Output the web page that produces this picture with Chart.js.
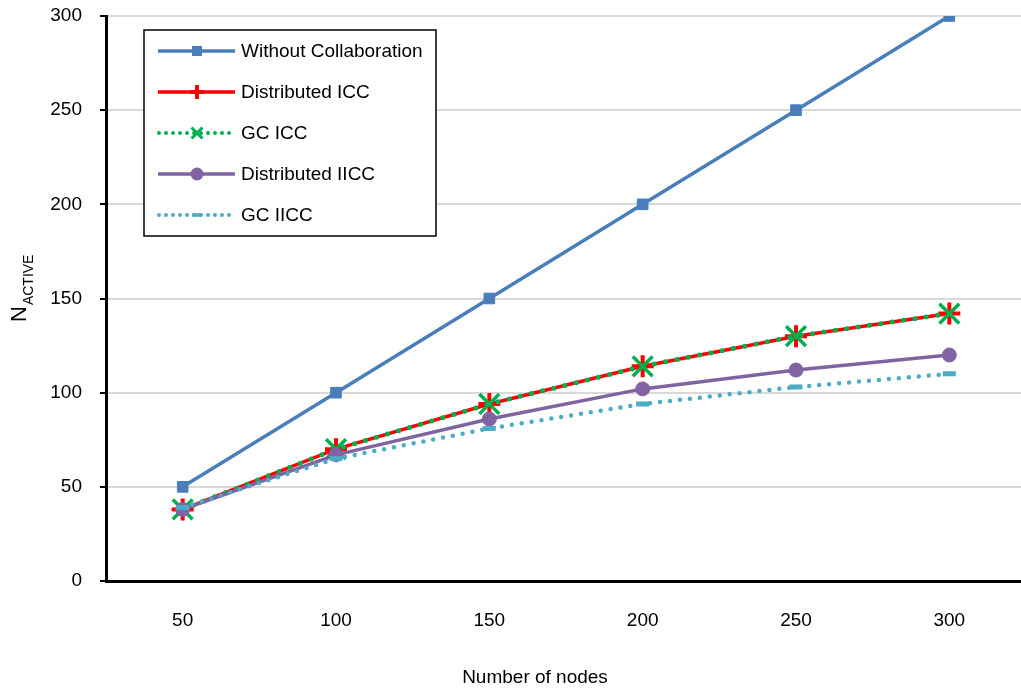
<!DOCTYPE html>
<html lang="en">
<head>
    <meta charset="UTF-8">
    <title>Active nodes vs. number of nodes</title>
    <script src="https://cdn.jsdelivr.net/npm/chart.js"></script>
    <style>
        body, html {
            margin: 0;
            padding: 0;
            background: #ffffff;
            overflow: hidden;
        }
        #wrap {
            position: relative;
            width: 1026px;
            height: 696px;
        }
    </style>
</head>
<body>
    <div id="wrap">
        <canvas id="activeChart" width="1026" height="696"></canvas>
    </div>

    <script>
        const FONT = '"Liberation Sans", Arial, sans-serif';
        const FONT_SIZE = 19;

        // number of nodes in the network
        const nodes = ['50', '100', '150', '200', '250', '300'];

        // active nodes for each scheme
        const withoutCollab = [50, 100, 150, 200, 250, 300];
        const distributedICC = [38, 70, 94, 114, 130, 142];
        const gcICC = [38, 70, 94, 114, 130, 142];
        const distributedIICC = [38, 67, 86, 102, 112, 120];
        const gcIICC = [39, 65, 81, 94, 103, 110];

        const yTicks = [0, 50, 100, 150, 200, 250, 300];

        const seriesNames = ['Without Collaboration', 'Distributed ICC', 'GC ICC', 'Distributed IICC', 'GC IICC'];
        const xTitle = 'Number of nodes';

        const datasets = [
            {
                label: seriesNames[0],
                data: withoutCollab,
                borderColor: '#4a7ebb',
                backgroundColor: '#4a7ebb',
                borderWidth: 3.5,
                pointStyle: 'rect',
                pointRadius: 7.5,
                pointBorderWidth: 1,
                order: 5
            },
            {
                label: seriesNames[1],
                data: distributedICC,
                borderColor: '#ff0000',
                backgroundColor: '#ff0000',
                borderWidth: 3.5,
                pointStyle: 'cross',
                pointRadius: 11,
                pointBorderWidth: 4,
                order: 4
            },
            {
                label: seriesNames[2],
                data: gcICC,
                borderColor: '#00b050',
                backgroundColor: '#00b050',
                borderWidth: 5,
                borderDash: [0, 11.5],
                borderCapStyle: 'round',
                pointStyle: 'crossRot',
                pointRadius: 14,
                pointBorderWidth: 3.5,
                order: 3
            },
            {
                label: seriesNames[3],
                data: distributedIICC,
                borderColor: '#8064a2',
                backgroundColor: '#8064a2',
                borderWidth: 3.5,
                pointStyle: 'circle',
                pointRadius: 7,
                pointBorderWidth: 1,
                order: 2
            },
            {
                label: seriesNames[4],
                data: gcIICC,
                borderColor: '#4bacc6',
                backgroundColor: '#4bacc6',
                borderWidth: 4.5,
                borderDash: [0, 10],
                borderCapStyle: 'round',
                pointStyle: 'line',
                pointRadius: 6.5,
                pointBorderWidth: 5,
                order: 1
            }
        ];

        // marker shapes for the legend box (smaller than on the plot)
        function drawMarker(ctx, ds, x, y) {
            ctx.save();
            ctx.fillStyle = ds.backgroundColor;
            ctx.strokeStyle = ds.borderColor;
            ctx.setLineDash([]);
            ctx.lineCap = 'butt';
            ctx.beginPath();
            if (ds.pointStyle === 'rect') {
                ctx.rect(x - 5, y - 5, 10, 10);
                ctx.fill();
            } else if (ds.pointStyle === 'cross') {
                ctx.lineWidth = 4;
                ctx.moveTo(x, y - 7); ctx.lineTo(x, y + 7);
                ctx.moveTo(x - 7, y); ctx.lineTo(x + 7, y);
                ctx.stroke();
            } else if (ds.pointStyle === 'crossRot') {
                ctx.lineWidth = 3;
                ctx.moveTo(x - 5.5, y - 5.5); ctx.lineTo(x + 5.5, y + 5.5);
                ctx.moveTo(x - 5.5, y + 5.5); ctx.lineTo(x + 5.5, y - 5.5);
                ctx.stroke();
            } else if (ds.pointStyle === 'circle') {
                ctx.arc(x, y, 6.5, 0, Math.PI * 2);
                ctx.fill();
            } else if (ds.pointStyle === 'line') {
                ctx.lineWidth = 3.5;
                ctx.moveTo(x - 4.5, y); ctx.lineTo(x + 4.5, y);
                ctx.stroke();
            }
            ctx.restore();
        }

        const legendBox = {
            id: 'legendBox',
            afterDraw(chart) {
                const ctx = chart.ctx;
                const box = { x: 144, y: 30, w: 292, h: 206 };
                ctx.save();
                ctx.fillStyle = '#ffffff';
                ctx.fillRect(box.x, box.y, box.w, box.h);
                ctx.strokeStyle = '#000000';
                ctx.lineWidth = 1.5;
                ctx.strokeRect(box.x, box.y, box.w, box.h);

                ctx.font = FONT_SIZE + 'px ' + FONT;
                ctx.textBaseline = 'middle';
                ctx.fillStyle = '#000000';
                chart.data.datasets.forEach((ds, i) => {
                    const rowY = 51 + i * 41;
                    ctx.save();
                    ctx.strokeStyle = ds.borderColor;
                    ctx.beginPath();
                    if (ds.borderDash) {
                        ctx.lineWidth = 4;
                        ctx.lineCap = 'round';
                        ctx.setLineDash([0, 7]);
                        ctx.moveTo(159, rowY);
                        ctx.lineTo(232, rowY);
                    } else {
                        ctx.lineWidth = 3.5;
                        ctx.moveTo(158, rowY);
                        ctx.lineTo(235, rowY);
                    }
                    ctx.stroke();
                    ctx.restore();
                    drawMarker(ctx, ds, 197, rowY);
                    ctx.fillText(ds.label, 241, rowY + 1);
                });
                ctx.restore();
            }
        };

        // axis titles: x title below the ticks, y title is N with ACTIVE as subscript
        const axisTitles = {
            id: 'axisTitles',
            afterDraw(chart) {
                const ctx = chart.ctx;
                ctx.save();
                ctx.fillStyle = '#000000';
                ctx.font = FONT_SIZE + 'px ' + FONT;
                ctx.textAlign = 'center';
                ctx.textBaseline = 'middle';
                ctx.fillText(xTitle, 535, 678);

                ctx.translate(26, 322);
                ctx.rotate(-Math.PI / 2);
                ctx.textAlign = 'left';
                ctx.textBaseline = 'alphabetic';
                ctx.font = '22px ' + FONT;
                ctx.fillText('N', 0, 0);
                const nW = ctx.measureText('N').width;
                ctx.font = '14px ' + FONT;
                ctx.fillText('ACTIVE', nW + 1, 7);
                ctx.restore();
            }
        };

        const ctx = document.getElementById('activeChart').getContext('2d');

        new Chart(ctx, {
            type: 'line',
            data: {
                labels: nodes,
                datasets: datasets
            },
            options: {
                responsive: false,
                animation: false,
                events: [],
                layout: {
                    autoPadding: false,
                    padding: { top: 16, right: 0, bottom: 0, left: 0 }
                },
                elements: {
                    line: { tension: 0 }
                },
                plugins: {
                    legend: { display: false },
                    tooltip: { enabled: false }
                },
                scales: {
                    x: {
                        offset: true,
                        grid: {
                            drawOnChartArea: false,
                            drawTicks: false
                        },
                        border: { color: '#000000', width: 3 },
                        ticks: {
                            padding: 28,
                            color: '#000000',
                            font: { family: FONT, size: FONT_SIZE }
                        },
                        afterFit(scale) {
                            scale.height = 115;
                            scale.paddingLeft = 0;
                            scale.paddingRight = 0;
                        }
                    },
                    y: {
                        min: 0,
                        max: 300,
                        afterBuildTicks(scale) {
                            scale.ticks = yTicks.map(v => ({ value: v }));
                        },
                        grid: {
                            color: '#d9d9d9',
                            lineWidth: 2,
                            tickColor: '#000000',
                            tickLength: 6,
                            tickWidth: 2
                        },
                        border: { color: '#000000', width: 3 },
                        ticks: {
                            padding: 18,
                            color: '#000000',
                            font: { family: FONT, size: FONT_SIZE }
                        },
                        afterFit(scale) {
                            scale.width = 106;
                            scale.paddingTop = 0;
                            scale.paddingBottom = 0;
                        }
                    }
                }
            },
            plugins: [legendBox, axisTitles]
        });
    </script>
</body>
</html>
